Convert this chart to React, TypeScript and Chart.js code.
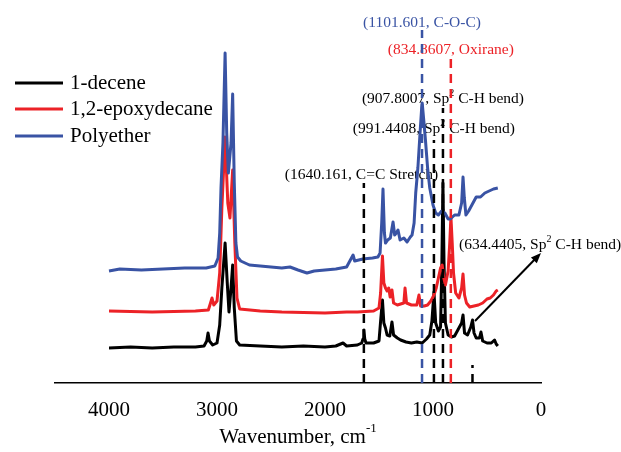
import React, { useEffect, useRef } from "react";
import { Chart, registerables } from "chart.js";

Chart.register(...registerables);

const FONT = '"Liberation Serif", "Times New Roman", serif';

const SERIES_LABELS = ["1-decene", "1,2-epoxydecane", "Polyether"];
const SERIES_COLORS = ["#000000", "#ec2227", "#3953a4"];

// 1-decene (offset trace, arbitrary units)
const DECENE_WN = [4000, 3800, 3600, 3400, 3200, 3120, 3095, 3083, 3070, 3040, 3000, 2975, 2955, 2925, 2905, 2889, 2870, 2855, 2840, 2820, 2790, 2600, 2400, 2200, 2000, 1900, 1833, 1800, 1700, 1660, 1648, 1640, 1632, 1620, 1550, 1500, 1485, 1468, 1455, 1440, 1425, 1400, 1380, 1365, 1330, 1300, 1250, 1200, 1150, 1100, 1060, 1030, 1010, 991, 975, 950, 930, 918, 908, 898, 885, 860, 830, 800, 760, 735, 722, 708, 680, 650, 634, 620, 600, 570, 556, 540, 500, 460, 430, 415, 400];
const DECENE_Y = [35, 36, 35, 36, 36, 37, 42, 50, 42, 38, 40, 58, 95, 140, 100, 71, 95, 118, 75, 42, 38, 37, 36, 37, 36, 37, 40, 37, 38, 40, 44, 53, 44, 40, 40, 42, 62, 83, 60, 55, 48, 47, 61, 48, 45, 43, 41, 40, 41, 40, 44, 48, 62, 91, 60, 52, 56, 120, 200, 120, 60, 48, 46, 47, 55, 60, 68, 50, 48, 56, 63, 50, 45, 45, 51, 42, 40, 40, 43, 39, 37];

// 1,2-epoxydecane
const EPOXY_WN = [4000, 3600, 3200, 3080, 3060, 3046, 3030, 3000, 2975, 2955, 2925, 2900, 2880, 2855, 2835, 2815, 2790, 2600, 2400, 2000, 1800, 1700, 1550, 1500, 1485, 1468, 1455, 1440, 1425, 1410, 1397, 1380, 1365, 1330, 1300, 1270, 1259, 1245, 1200, 1150, 1130, 1115, 1080, 1050, 1020, 1000, 985, 970, 950, 930, 915, 900, 885, 860, 845, 834, 822, 810, 790, 760, 735, 722, 708, 690, 660, 620, 580, 540, 500, 470, 440, 415, 400];
const EPOXY_Y = [72, 71, 72, 73, 80, 85, 78, 82, 110, 175, 246, 180, 165, 213, 140, 85, 74, 72, 71, 70, 71, 71, 72, 75, 90, 127, 100, 95, 92, 95, 86, 93, 80, 78, 79, 80, 95, 80, 78, 78, 88, 77, 77, 78, 82, 86, 90, 95, 105, 115, 118, 105, 98, 112, 140, 166, 140, 110, 90, 85, 95, 109, 88, 80, 76, 77, 78, 80, 84, 85, 88, 92, 93];

// Polyether
const POLY_WN = [4000, 3900, 3700, 3500, 3300, 3100, 3020, 2990, 2975, 2963, 2945, 2925, 2910, 2895, 2870, 2855, 2840, 2825, 2810, 2780, 2700, 2500, 2400, 2324, 2250, 2167, 2100, 2000, 1900, 1800, 1740, 1725, 1650, 1560, 1510, 1490, 1475, 1463, 1450, 1440, 1420, 1395, 1370, 1355, 1340, 1324, 1305, 1270, 1240, 1210, 1194, 1175, 1160, 1140, 1120, 1105, 1100, 1085, 1070, 1050, 1030, 1000, 975, 950, 920, 890, 860, 840, 800, 760, 735, 722, 710, 695, 670, 640, 600, 560, 520, 480, 440, 400];
const POLY_Y = [112, 114, 113, 114, 115, 115, 117, 125, 150, 195, 240, 330, 250, 210, 240, 289, 200, 140, 126, 122, 118, 116, 115, 116, 113, 110, 112, 113, 114, 116, 128, 122, 124, 125, 126, 130, 160, 194, 150, 140, 143, 145, 161, 148, 150, 153, 143, 145, 141, 146, 148, 160, 190, 215, 250, 275, 280, 262, 243, 215, 195, 178, 170, 168, 172, 170, 164, 164, 168, 168, 180, 206, 185, 168, 172, 178, 186, 186, 190, 192, 194, 195];

const X_TICKS = [4000, 3000, 2000, 1000, 0];
const X_MIN = 0;
const X_MAX = 4500;
const Y_MAX = 383;
const X_TITLE = "Wavenumber, cm";
const X_TITLE_SUP = "-1";

// dashed marker lines
const MARK_WN = [1640.161, 1101.601, 834.8607, 907.8007, 991.4408, 634.4405];
const MARK_TOP = [200, 353, 325, 275, 243, 18];
const MARK_COLORS = ["#000000", "#3953a4", "#ec2227", "#000000", "#000000", "#000000"];

// annotation labels
const LABEL_PRE = ["(1640.161, C=C Stretch)", "(1101.601, C-O-C)", "(834.8607, Oxirane)", "(907.8007, Sp", "(991.4408, Sp", "(634.4405, Sp"];
const LABEL_SUP = ["", "", "", "2", "2", "2"];
const LABEL_POST = ["", "", "", " C-H bend)", " C-H bend)", " C-H bend)"];
const LABEL_WN = [1662, 1101.601, 834.8607, 907.8007, 991.4408, 759];
const LABEL_Y = [208, 360, 333, 284, 254, 138];
const LABEL_ALIGN = ["center", "center", "center", "center", "center", "left"];
const LABEL_COLORS = ["#000000", "#3953a4", "#ec2227", "#000000", "#000000", "#000000"];

const ARROW_FROM = [611, 62];
const ARROW_TO = [0, 130];

function toPoints(wn: number[], ys: number[]) {
  return wn.map((w, i) => ({ x: w, y: ys[i] }));
}

function drawRich(ctx: CanvasRenderingContext2D, pre: string, sup: string, post: string, x: number, y: number, align: string, size: number, color: string) {
  const main = `${size}px ${FONT}`;
  const small = `${Math.round(size * 0.62)}px ${FONT}`;
  ctx.font = main;
  const w1 = ctx.measureText(pre).width;
  const w3 = post ? ctx.measureText(post).width : 0;
  ctx.font = small;
  const w2 = sup ? ctx.measureText(sup).width : 0;
  const total = w1 + w2 + w3;
  const x0 = align === "center" ? x - total / 2 : x;
  ctx.fillStyle = color;
  ctx.textAlign = "left";
  ctx.textBaseline = "middle";
  ctx.font = main;
  ctx.fillText(pre, x0, y);
  if (sup) {
    ctx.font = small;
    ctx.fillText(sup, x0 + w1, y - size * 0.38);
  }
  if (post) {
    ctx.font = main;
    ctx.fillText(post, x0 + w1 + w2, y);
  }
}

const labelsPlugin = {
  id: "ftirLabels",
  beforeDatasetsDraw(chart: any) {
    const { ctx, scales } = chart;
    const xs = scales.x;
    const ys = scales.y;
    ctx.save();
    for (let i = 0; i < LABEL_PRE.length; i++) {
      drawRich(ctx, LABEL_PRE[i], LABEL_SUP[i], LABEL_POST[i], xs.getPixelForValue(LABEL_WN[i]), ys.getPixelForValue(LABEL_Y[i]), LABEL_ALIGN[i], 15.5, LABEL_COLORS[i]);
    }
    ctx.restore();
  },
  afterDatasetsDraw(chart: any) {
    const { ctx, scales } = chart;
    const xs = scales.x;
    const ys = scales.y;
    const x1 = xs.getPixelForValue(ARROW_FROM[0]);
    const y1 = ys.getPixelForValue(ARROW_FROM[1]);
    const x2 = xs.getPixelForValue(ARROW_TO[0]);
    const y2 = ys.getPixelForValue(ARROW_TO[1]);
    const ang = Math.atan2(y2 - y1, x2 - x1);
    const head = 11;
    ctx.save();
    ctx.strokeStyle = "#000";
    ctx.fillStyle = "#000";
    ctx.lineWidth = 2;
    ctx.beginPath();
    ctx.moveTo(x1, y1);
    ctx.lineTo(x2 - Math.cos(ang) * head * 0.8, y2 - Math.sin(ang) * head * 0.8);
    ctx.stroke();
    ctx.beginPath();
    ctx.moveTo(x2, y2);
    ctx.lineTo(x2 - head * Math.cos(ang - 0.38), y2 - head * Math.sin(ang - 0.38));
    ctx.lineTo(x2 - head * Math.cos(ang + 0.38), y2 - head * Math.sin(ang + 0.38));
    ctx.closePath();
    ctx.fill();
    ctx.restore();
  },
  afterDraw(chart: any) {
    const { ctx, chartArea } = chart;
    ctx.save();
    // legend
    const rowY = [83, 109, 136];
    ctx.font = `21px ${FONT}`;
    ctx.textAlign = "left";
    ctx.textBaseline = "middle";
    for (let i = 0; i < SERIES_LABELS.length; i++) {
      ctx.strokeStyle = SERIES_COLORS[i];
      ctx.lineWidth = 3;
      ctx.beginPath();
      ctx.moveTo(15, rowY[i]);
      ctx.lineTo(63, rowY[i]);
      ctx.stroke();
      ctx.fillStyle = "#000";
      ctx.fillText(SERIES_LABELS[i], 70, rowY[i]);
    }
    // x title with superscript
    const cx = (chartArea.left + chartArea.right) / 2;
    drawRich(ctx, X_TITLE, X_TITLE_SUP, "", cx, 437, "center", 21, "#000");
    ctx.restore();
  },
};

export default function App() {
  const ref = useRef<HTMLCanvasElement | null>(null);
  useEffect(() => {
    if (!ref.current) return;
    const series = [
      { wn: DECENE_WN, y: DECENE_Y, order: 3 },
      { wn: EPOXY_WN, y: EPOXY_Y, order: 2 },
      { wn: POLY_WN, y: POLY_Y, order: 1 },
    ];
    const datasets: any[] = series.map((s, i) => ({
      label: SERIES_LABELS[i],
      data: toPoints(s.wn, s.y),
      borderColor: SERIES_COLORS[i],
      backgroundColor: SERIES_COLORS[i],
      borderWidth: 3,
      pointRadius: 0,
      tension: 0,
      borderJoinStyle: "round",
      fill: false,
      order: s.order,
    }));
    MARK_WN.forEach((w, i) => {
      datasets.push({
        label: "mark" + i,
        data: [{ x: w, y: 0 }, { x: w, y: MARK_TOP[i] }],
        borderColor: MARK_COLORS[i],
        borderWidth: 2.5,
        borderDash: [9, 6],
        pointRadius: 0,
        fill: false,
        order: 0,
      });
    });
    const chart = new Chart(ref.current, {
      type: "line",
      data: { datasets },
      options: {
        animation: false,
        responsive: false,
        devicePixelRatio: 1,
        layout: { padding: { left: 55, right: 80, top: 0, bottom: 0 } },
        plugins: { legend: { display: false }, tooltip: { enabled: false } },
        scales: {
          x: {
            type: "linear",
            reverse: true,
            min: X_MIN,
            max: X_MAX,
            grid: { display: false },
            border: { display: true, color: "#000", width: 1.5 },
            ticks: {
              color: "#000",
              font: { family: FONT, size: 21 },
              padding: 7,
              maxRotation: 0,
              callback: (v: any) => String(v),
            },
            afterBuildTicks: (scale: any) => {
              scale.ticks = X_TICKS.map((v) => ({ value: v }));
            },
            afterFit: (scale: any) => {
              scale.height = 69;
            },
          },
          y: { type: "linear", display: false, min: 0, max: Y_MAX },
        },
      },
      plugins: [labelsPlugin],
    } as any);
    return () => chart.destroy();
  }, []);
  return (
    <div style={{ position: "absolute", left: 0, top: 0, width: 621, height: 452, background: "#fff" }}>
      <canvas ref={ref} width={621} height={452} style={{ width: 621, height: 452, display: "block" }} />
    </div>
  );
}
